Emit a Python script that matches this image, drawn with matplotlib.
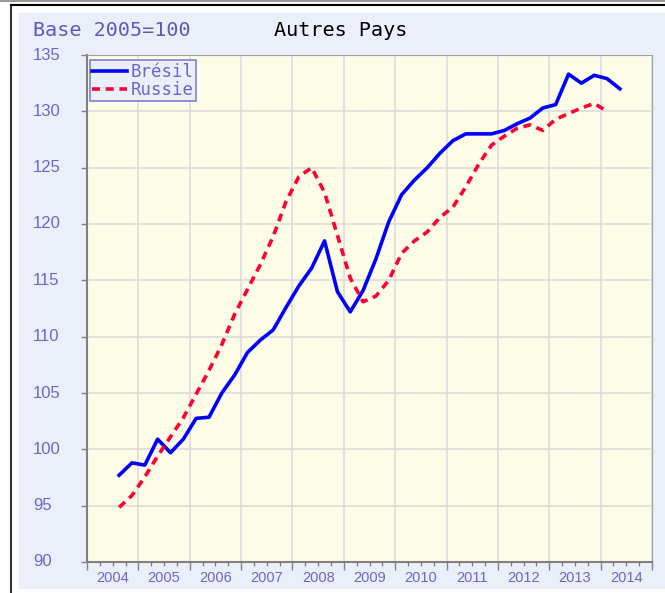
import numpy as np
import matplotlib
matplotlib.use("Agg")
import matplotlib.pyplot as plt
from matplotlib.lines import Line2D
from matplotlib.patches import Rectangle
from matplotlib.ticker import MultipleLocator
from matplotlib.transforms import blended_transform_factory

# quarterly series, starting 2004 Q3
start_year = 2004.5
bresil = [97.7, 98.8, 98.6, 100.9, 99.7, 100.9, 102.75, 102.85,
          105.0, 106.6, 108.6, 109.7, 110.6, 112.6, 114.5, 116.1,
          118.5, 114.0, 112.2, 114.1, 116.9, 120.2, 122.6, 123.9,
          125.0, 126.3, 127.4, 128.0, 128.0, 128.0, 128.3, 128.9,
          129.4, 130.3, 130.6, 133.3, 132.5, 133.2, 132.9, 132.0]
russie = [94.85, 95.9, 97.55, 99.4, 101.1, 102.8, 104.9, 107.0,
          109.3, 112.0, 114.2, 116.4, 118.9, 122.0, 124.2, 125.0,
          122.8, 119.0, 115.2, 113.1, 113.6, 115.0, 117.4, 118.5,
          119.3, 120.6, 121.5, 123.3, 125.3, 127.0, 127.8, 128.5,
          128.8, 128.3, 129.3, 129.8, 130.3, 130.7, 130.0]
years = list(range(2004, 2015))
yvals = list(range(90, 136, 5))

label_col = "#6868C8"
mono = ["DejaVu Sans Mono"]
sans = ["Liberation Sans", "DejaVu Sans"]

W, H = 665, 593
fig = plt.figure(figsize=(W / 100, H / 100), dpi=100)

# background panel and frame lines
fig.patches.append(Rectangle((19 / W, 5 / H), (W - 19) / W, (588 - 13) / H,
                             transform=fig.transFigure, color="#EBEFFA", zorder=-5))
fig.add_artist(Line2D([11 / W, 11 / W], [0, 1 - 5 / H], color="#333333", lw=1.5))
fig.add_artist(Line2D([11 / W, 1], [1 - 5 / H, 1 - 5 / H], color="black", lw=1.5))
fig.add_artist(Line2D([0, 1], [1 - 1 / H, 1 - 1 / H], color="#999999", lw=1.5))

ax = fig.add_axes([87 / W, 31 / H, 565 / W, 507 / H])
ax.set_facecolor("#FDFCE6")

def qx(n):
    return start_year + 0.125 + 0.25 * np.arange(n)

ax.plot(qx(len(bresil)), bresil, color="#0000FF", lw=2.6, label="Brésil",
        solid_joinstyle="round", zorder=3)
ax.plot(qx(len(russie)), russie, color="#FF0033", lw=2.6, label="Russie",
        linestyle=(0, (2.2, 1.6)), zorder=3)

ax.set_xlim(2004, 2015)
ax.set_ylim(90, 135)
ax.xaxis.set_major_locator(MultipleLocator(1))
ax.xaxis.set_minor_locator(MultipleLocator(0.25))
ax.set_yticks(yvals)
ax.grid(True, which="major", color="#DCDCDC", lw=1.2)
ax.set_axisbelow(True)
ax.set_xticklabels([])
ax.set_yticklabels([])
ax.tick_params(axis="x", which="major", length=6, color="#808080", width=1)
ax.tick_params(axis="x", which="minor", length=3, color="#808080", width=1)
ax.tick_params(axis="y", length=4, color="#808080", width=1)
for s in ax.spines.values():
    s.set_color("#A0A0A0")
ax.spines["left"].set_color("#808080")
ax.spines["bottom"].set_color("#808080")
ax.spines["left"].set_linewidth(1.5)
ax.spines["bottom"].set_linewidth(1.5)

for y in years:
    ax.text(y + 0.5, -0.018, str(y), transform=ax.get_xaxis_transform(),
            ha="center", va="top", color=label_col, fontsize=10.5, family=sans)

# y labels are left aligned near the panel edge
ytrans = blended_transform_factory(fig.transFigure, ax.transData)
for v in yvals:
    ax.text(33 / W, v, str(v), transform=ytrans, ha="left", va="center",
            color=label_col, fontsize=12, family=sans)

leg = ax.legend(loc="upper left", bbox_to_anchor=(0.005, 0.99), fancybox=False,
                framealpha=1, facecolor="#EBEFFA", edgecolor="#8080D0",
                prop={"family": mono, "size": 12.5}, handlelength=2.0,
                handletextpad=0.2, borderpad=0.15, labelspacing=0.0,
                borderaxespad=0)
leg.get_frame().set_linewidth(1.2)
for t in leg.get_texts():
    t.set_color(label_col)

fig.text(33 / W, 1 - 30 / H, "Base 2005=100", color="#5C5CB8", fontsize=14.5,
         family=mono, ha="left", va="center")
fig.text(341 / W, 1 - 30 / H, "Autres Pays", color="black", fontsize=14.5,
         family=mono, ha="center", va="center")

fig.savefig("out.png", dpi=100)
